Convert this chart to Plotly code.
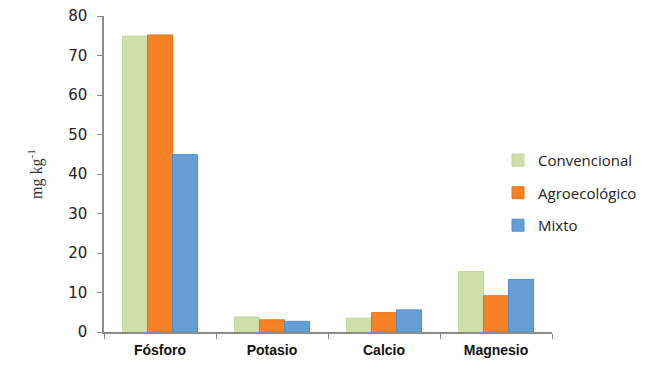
import plotly.graph_objects as go

categories = ["Fósforo", "Potasio", "Calcio", "Magnesio"]
convencional = [74.9, 3.8, 3.5, 15.3]
agroecologico = [75.2, 3.1, 4.9, 9.2]
mixto = [44.9, 2.7, 5.6, 13.3]
y_ticks = [0, 10, 20, 30, 40, 50, 60, 70, 80]

series = [
    ("Convencional", convencional, "#cfdfab", "#c3d59b"),
    ("Agroecológico", agroecologico, "#f58325", "#e8741a"),
    ("Mixto", mixto, "#659ed5", "#4a8fd6"),
]

fig = go.Figure()
for i, (name, vals, col, lc) in enumerate(series):
    fig.add_trace(go.Bar(
        x=categories, y=vals, name=name,
        marker=dict(color=col, line=dict(color=lc, width=1)),
        legendgroup=f"g{i}",
    ))

fig.update_layout(
    width=650, height=369,
    margin=dict(l=96, r=106, t=8, b=45, autoexpand=False),
    paper_bgcolor="white", plot_bgcolor="white",
    barmode="group", bargap=0.33, bargroupgap=0,
    font=dict(family="Liberation Sans, Arial, sans-serif", size=15, color="#222222"),
    showlegend=True,
    legend=dict(
        x=0.8795, y=0.44, xanchor="left", yanchor="middle",
        traceorder="grouped", tracegroupgap=10,
        font=dict(family="Open Sans, Liberation Sans, sans-serif", size=15, color="#222222"),
        itemwidth=30, bgcolor="rgba(0,0,0,0)",
    ),
    xaxis=dict(
        showline=True, linecolor="#8c8c8c", linewidth=1.5, automargin=False,
        ticks="outside", tickson="boundaries", ticklen=5, tickcolor="#8c8c8c",
        ticklabelstandoff=4,
        tickfont=dict(family="Liberation Sans, Arial, sans-serif", size=14, color="#111111", weight="bold"),
    ),
    yaxis=dict(
        range=[0, 80], tickvals=y_ticks, automargin=False,
        ticklabeloverflow="allow", ticklabelstandoff=7,
        showline=True, linecolor="#8c8c8c", linewidth=1.5,
        ticks="outside", ticklen=5, tickcolor="#8c8c8c",
        showgrid=False, zeroline=False,
        tickfont=dict(family="DejaVu Sans, Verdana, sans-serif", size=15, color="#222222"),
        title=dict(text="mg kg<sup>-1</sup>", standoff=22,
                   font=dict(family="Liberation Serif, Times New Roman, serif", size=16, color="#333333")),
    ),
)

fig.write_html("out.html")
